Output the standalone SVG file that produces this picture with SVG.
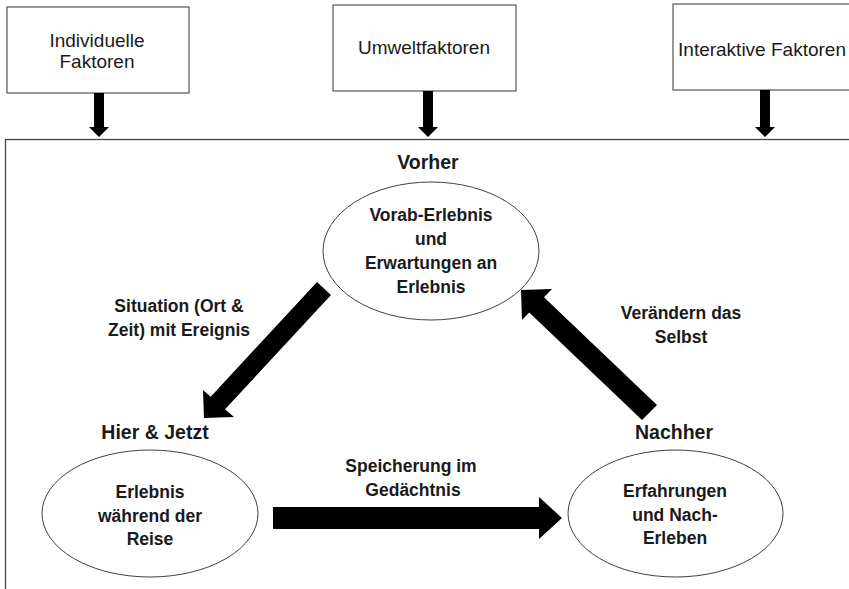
<svg xmlns="http://www.w3.org/2000/svg" width="849" height="589" viewBox="0 0 849 589">
<style>
  .box { fill: #ffffff; stroke: #555555; stroke-width: 1.2; }
  .ell { fill: #ffffff; stroke: #404040; stroke-width: 1; }
  .frame { fill: none; stroke: #444444; stroke-width: 1.3; }
  .arrow { fill: #000000; stroke: none; }
  text { font-family: "Liberation Sans", Arial, sans-serif; fill: #1a1a1a; text-anchor: middle; }
  .reg { font-size: 19px; }
  .bold { font-size: 17.5px; font-weight: bold; }
  .title { font-size: 19.5px; font-weight: bold; }
</style>
<rect x="0" y="0" width="849" height="589" fill="#ffffff"/>

<g id="frame">
  <rect class="frame" x="5.5" y="139.5" width="860" height="470"/>
</g>

<g id="individuelle-faktoren">
  <rect class="box" x="7" y="7" width="182" height="86"/>
  <text class="reg" x="97" y="47">Individuelle</text>
  <text class="reg" x="97" y="68">Faktoren</text>
</g>

<g id="umweltfaktoren">
  <rect class="box" x="333" y="5" width="183" height="86"/>
  <text class="reg" x="424" y="54">Umweltfaktoren</text>
</g>

<g id="interaktive-faktoren">
  <rect class="box" x="673" y="4" width="190" height="86"/>
  <text class="reg" x="762" y="56">Interaktive Faktoren</text>
</g>

<g id="vorher">
  <text class="title" x="428" y="169">Vorher</text>
  <ellipse class="ell" cx="431" cy="251" rx="108" ry="69"/>
  <text class="bold" x="431" y="221">Vorab-Erlebnis</text>
  <text class="bold" x="431" y="245">und</text>
  <text class="bold" x="431" y="269">Erwartungen an</text>
  <text class="bold" x="431" y="293">Erlebnis</text>
</g>

<g id="hier-jetzt">
  <text class="title" x="155" y="439">Hier &amp; Jetzt</text>
  <ellipse class="ell" cx="150" cy="513.5" rx="108" ry="63.5"/>
  <text class="bold" x="150" y="498">Erlebnis</text>
  <text class="bold" x="150" y="522">während der</text>
  <text class="bold" x="150" y="545">Reise</text>
</g>

<g id="nachher">
  <text class="title" x="674" y="439">Nachher</text>
  <ellipse class="ell" cx="675.5" cy="513.5" rx="107.5" ry="63.5"/>
  <text class="bold" x="675" y="497">Erfahrungen</text>
  <text class="bold" x="675" y="521">und Nach-</text>
  <text class="bold" x="675" y="544">Erleben</text>
</g>

<g id="connectors">
  <polygon class="arrow" points="94,93 104,93 104,127 109,127 99,137 89,127 94,127"/>
  <polygon class="arrow" points="423,91 433,91 433,127 438,127 428,137 418,127 423,127"/>
  <polygon class="arrow" points="760,90 770,90 770,127 775,127 765,137 755,127 760,127"/>
  <polygon class="arrow" points="317,282 210.7,396.7 203,390 204,418 234,417 225.1,409.3 331,295"/>
  <polygon class="arrow" points="657,405 544,297.3 552,289 521,290 522,320 529.2,312.6 642,420"/>
  <polygon class="arrow" points="273,507 539,507 539,497 562,518 539,539 539,529 273,529"/>
  <text class="bold" x="179" y="312">Situation (Ort &amp;</text>
  <text class="bold" x="179" y="336">Zeit) mit Ereignis</text>
  <text class="bold" x="681" y="319">Verändern das</text>
  <text class="bold" x="681" y="343">Selbst</text>
  <text class="bold" x="411" y="472">Speicherung im</text>
  <text class="bold" x="413" y="496">Gedächtnis</text>
</g>
</svg>
